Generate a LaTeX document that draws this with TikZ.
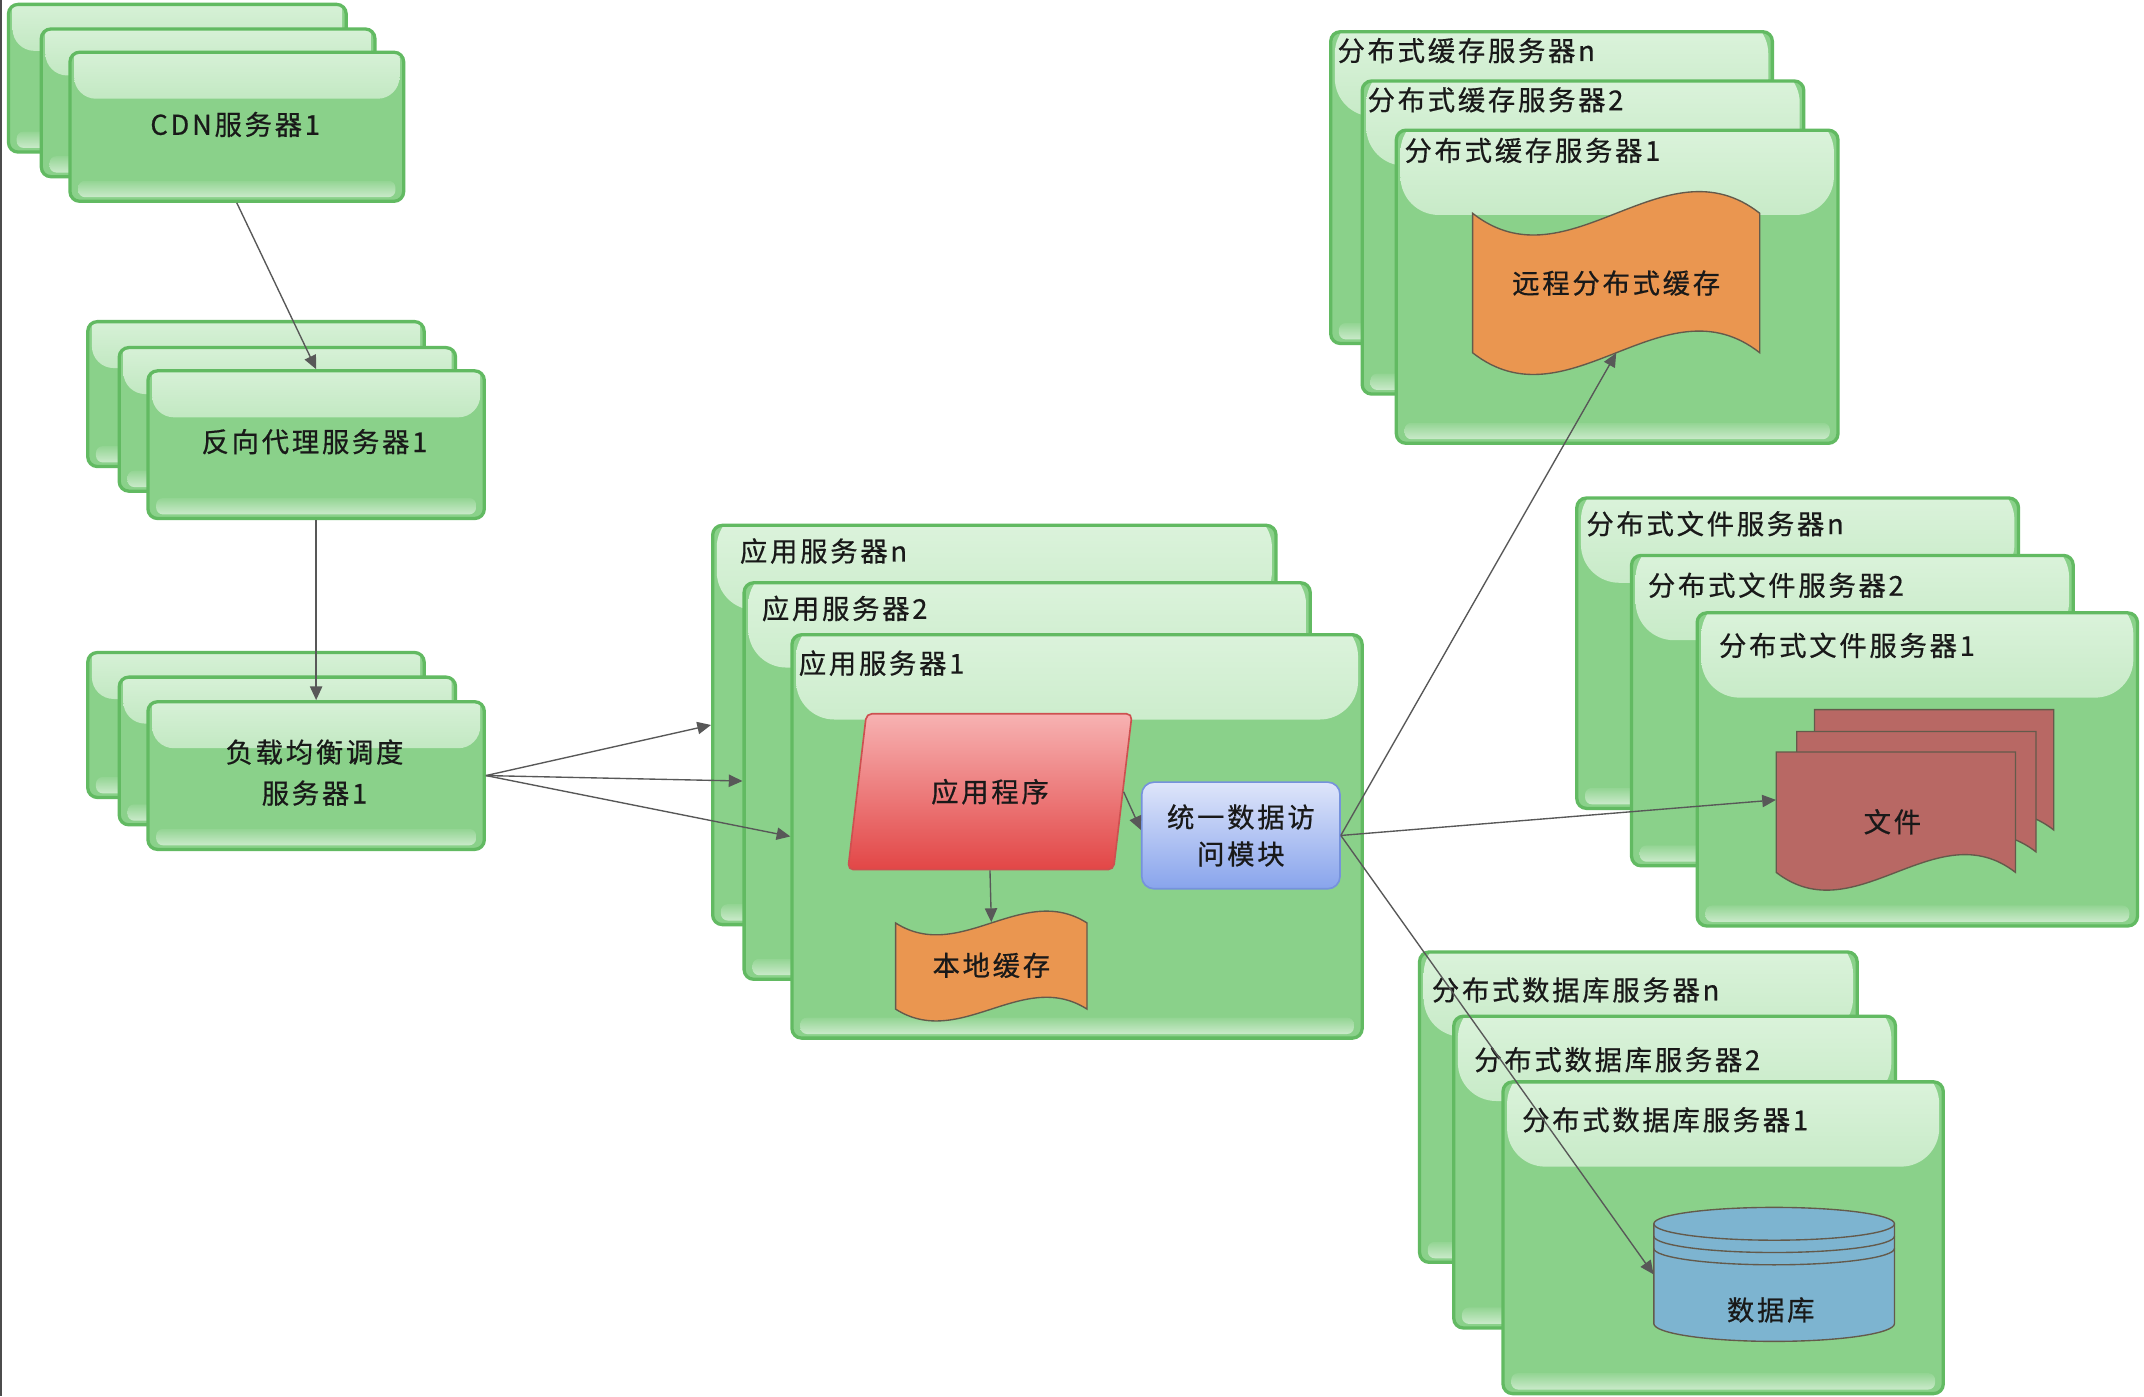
\documentclass[tikz,border=0pt]{standalone}
\usepackage{fontspec}
\newfontfamily\cjk[LetterSpace=10,FakeBold=0.6]{Noto Sans CJK SC}
\usetikzlibrary{arrows.meta,shapes.geometric,calc}

\definecolor{gfill}{RGB}{138,209,138}
\definecolor{gborder}{RGB}{98,186,98}
\definecolor{ghi}{RGB}{222,244,222}
\definecolor{orangec}{RGB}{234,150,80}
\definecolor{docred}{RGB}{184,104,100}
\definecolor{dbblue}{RGB}{125,180,208}
\definecolor{arrowc}{RGB}{88,88,88}
\definecolor{outl}{RGB}{100,90,75}
\definecolor{progtop}{RGB}{247,178,178}
\definecolor{progmid}{RGB}{236,126,126}
\definecolor{progbot}{RGB}{226,70,70}
\definecolor{progborder}{RGB}{205,80,80}
\definecolor{udatop}{RGB}{222,229,250}
\definecolor{udamid}{RGB}{168,188,244}
\definecolor{udabot}{RGB}{136,164,236}
\definecolor{udaborder}{RGB}{118,146,220}

\tikzset{
  gbox/.style={draw=gborder, line width=2.4pt, fill=gfill, rounded corners=7pt,
    inner sep=0pt, anchor=north west},
  lbl/.style={font={\cjk\fontsize{20}{24}\selectfont}, text=black!90, inner sep=0pt},
  ttl/.style={lbl, anchor=west},
  arr/.style={draw=arrowc, line width=1pt, -{Triangle[length=10pt,width=9pt]}},
  progbox/.style={trapezium, trapezium left angle=71, trapezium right angle=109,
    trapezium stretches=true, minimum width=208, minimum height=114, inner sep=0pt,
    draw=progborder, line width=1.2pt, rounded corners=4pt,
    top color=progtop, middle color=progmid, bottom color=progbot,
    font={\cjk\fontsize{20}{24}\selectfont}, text=black!90},
  udabox/.style={rectangle, rounded corners=9pt, draw=udaborder, line width=1.2pt,
    top color=udatop, middle color=udamid, bottom color=udabot,
    minimum width=145, minimum height=78, inner sep=0pt, align=center,
    font={\cjk\fontsize{20}{27}\selectfont}, text=black!90},
  shapeline/.style={draw=outl, line width=1pt},
}

% name, x1, y1, x2, y2, gloss height, gloss radius
\newcommand\gbx[7]{%
  \node[gbox, minimum width={(#4)-(#2)}, minimum height={(#5)-(#3)},
    path picture={
      \fill[top color=ghi, bottom color=gfill!90!white, rounded corners=#7pt]
        ([xshift=3pt,yshift=12pt]path picture bounding box.north west) rectangle
        ([xshift=-3pt,yshift=-#6pt]path picture bounding box.north east);
      \fill[top color=gfill!92!white, bottom color=gfill!45!white, rounded corners=5pt]
        ([xshift=6pt,yshift=3pt]path picture bounding box.south west) rectangle
        ([xshift=-6pt,yshift=15pt]path picture bounding box.south east);
    }] (#1) at (#2,#3) {};}

\begin{document}
\begin{tikzpicture}[x=1pt,y=-1pt]
\useasboundingbox (0,0) rectangle (1568,1021);
\fill[white] (0,0) rectangle (1568,1021);
\draw[line width=1.6pt, black!70] (0.8,0) -- (0.8,1021);

% ---------- CDN ----------
\gbx{cdn3}{5}{2}{252}{110}{34}{16}
\gbx{cdn2}{29}{20}{273}{128}{34}{16}
\gbx{cdn1}{50}{37}{294}{146}{34}{16}
\node[lbl] (cdnt) at (172,91) {CDN服务器1};

% ---------- reverse proxy ----------
\gbx{px3}{63}{234}{309}{340}{34}{16}
\gbx{px2}{86}{253}{332}{358}{34}{16}
\gbx{px1}{107}{270}{353}{378}{34}{16}
\node[lbl] (pxt) at (230,323) {反向代理服务器1};

% ---------- load balancer ----------
\gbx{lb3}{63}{476}{309}{582}{34}{16}
\gbx{lb2}{86}{494}{332}{602}{34}{16}
\gbx{lb1}{107}{512}{353}{620}{34}{16}
\node[lbl, align=center, font={\cjk\fontsize{20}{30}\selectfont}] (lbt) at (230,565) {负载均衡调度\\服务器1};

% ---------- application servers ----------
\gbx{appn}{520}{383}{932}{675}{62}{28}
\node[ttl] (tappn) at (541,403) {应用服务器n};
\gbx{app2}{543}{425}{957}{715}{62}{28}
\node[ttl] (tapp2) at (557,445) {应用服务器2};
\gbx{app1}{578}{463}{995}{758}{62}{28}
\node[ttl] (tapp1) at (584,485) {应用服务器1};

\node[progbox] (prog) at (724,579) {应用程序};
\path[shapeline, fill=orangec] (655,675) .. controls (702,705) and (748,645) .. (795,675)
  -- (795,738) .. controls (748,708) and (702,768) .. (655,738) -- cycle;
\node[lbl, minimum width=140, minimum height=63] (lc) at (725,706) {本地缓存};
\node[udabox] (uda) at (907.5,611) {统一数据访\\问模块};

% ---------- distributed cache servers ----------
\gbx{csn}{972}{22}{1295}{250}{62}{28}
\node[ttl] (tcsn) at (978,37) {分布式缓存服务器n};
\gbx{cs2}{995}{58}{1318}{287}{62}{28}
\node[ttl] (tcs2) at (1000,73) {分布式缓存服务器2};
\gbx{cs1}{1020}{94}{1343}{323}{62}{28}
\node[ttl] (tcs1) at (1027,110) {分布式缓存服务器1};
\path[shapeline, fill=orangec] (1077,156) .. controls (1147,211) and (1217,101) .. (1287,156)
  -- (1287,258) .. controls (1217,203) and (1147,313) .. (1077,258) -- cycle;
\node[lbl, minimum width=210, minimum height=102] (rc) at (1182,207) {远程分布式缓存};

% ---------- distributed file servers ----------
\gbx{fsn}{1152}{363}{1475}{590}{62}{28}
\node[ttl] (tfsn) at (1160,383) {分布式文件服务器n};
\gbx{fs2}{1192}{405}{1515}{632}{62}{28}
\node[ttl] (tfs2) at (1205,428) {分布式文件服务器2};
\gbx{fs1}{1240}{447}{1562}{676}{62}{28}
\node[ttl] (tfs1) at (1257,472) {分布式文件服务器1};
\path[shapeline, fill=docred] (1327,519) -- (1502,519) -- (1502,607)
  .. controls (1444,562) and (1385,652) .. (1327,607) -- cycle;
\path[shapeline, fill=docred] (1314,535) -- (1489,535) -- (1489,623)
  .. controls (1431,578) and (1372,668) .. (1314,623) -- cycle;
\path[shapeline, fill=docred] (1299,550) -- (1474,550) -- (1474,638)
  .. controls (1416,593) and (1357,683) .. (1299,638) -- cycle;
\node[minimum width=175, minimum height=88, inner sep=0pt] (fd) at (1386.5,594) {};
\node[lbl] (fdt) at (1384,601) {文件};

% ---------- distributed database servers ----------
\gbx{dbn}{1037}{695}{1357}{922}{62}{28}
\node[ttl] (tdbn) at (1047,724) {分布式数据库服务器n};
\gbx{db2}{1062}{742}{1385}{970}{62}{28}
\node[ttl] (tdb2) at (1078,775) {分布式数据库服务器2};
\gbx{db1}{1098}{790}{1420}{1018}{62}{28}
\node[ttl] (tdb1) at (1113,819) {分布式数据库服务器1};
\path[shapeline, fill=dbblue] (1209.5,895) -- (1209.5,968)
  arc[start angle=180, end angle=360, x radius=88pt, y radius=13pt]
  -- (1385.5,895)
  arc[start angle=0, end angle=180, x radius=88pt, y radius=12pt] -- cycle;
\draw[shapeline] (1209.5,895) arc[start angle=180, end angle=360, x radius=88pt, y radius=12pt];
\draw[shapeline] (1209.5,904) arc[start angle=180, end angle=360, x radius=88pt, y radius=12pt];
\draw[shapeline] (1209.5,913) arc[start angle=180, end angle=360, x radius=88pt, y radius=12pt];
\node[minimum width=176, minimum height=98, inner sep=0pt] (db) at (1297.5,932) {};
\node[lbl] (dbt) at (1295,958) {数据库};

% ---------- connectors ----------
\draw[arr] (cdn1.south) -- (px1.north);
\draw[arr] (px1.south) -- (lb1.north);
\draw[arr] (lb1.east) -- (appn.west);
\draw[arr] (lb1.east) -- (app2.west);
\draw[arr] (lb1.east) -- (app1.west);
\draw[arr] (prog.east) -- ([yshift=4pt]uda.west);
\draw[arr] (prog.south) -- (lc.north);
\draw[arr] (uda.east) -- (rc.south);
\draw[arr] (uda.east) -- ([yshift=9pt]fd.west);
\draw[arr] (uda.east) -- (db.west);
\end{tikzpicture}
\end{document}
